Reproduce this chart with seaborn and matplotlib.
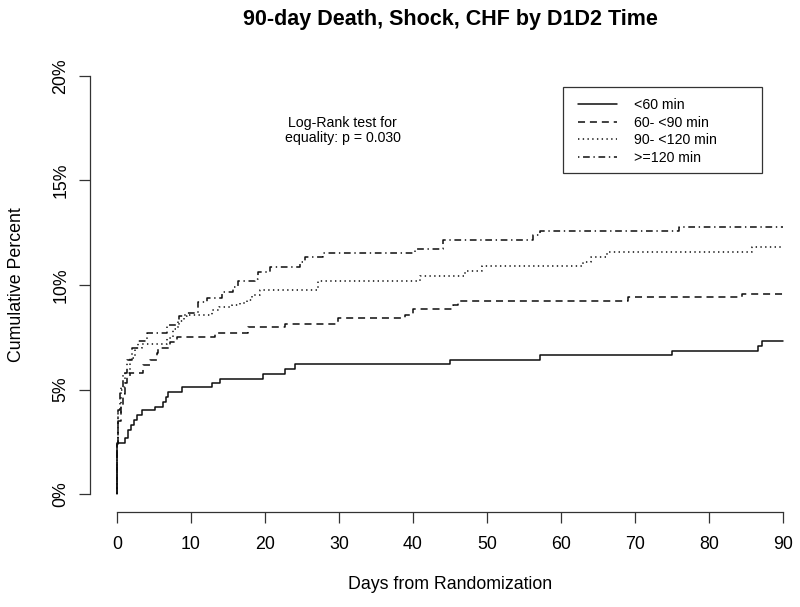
import matplotlib
matplotlib.use("Agg")
import matplotlib.pyplot as plt
from matplotlib.patches import Rectangle
import seaborn as sns
import pandas as pd

# cumulative percent (step values after each event)
groups = ["<60 min", "60- <90 min", "90- <120 min", ">=120 min"]

days_lt60 = [0, 0, 1.1, 1.5, 1.9, 2.3, 2.7, 3.4, 5.1, 6.2, 6.6, 6.9, 8.8, 12.8, 13.9,
             19.7, 22.7, 24.1, 45.0, 57.2, 75.0, 86.6, 87.2, 90]
pct_lt60 = [0, 2.44, 2.68, 3.06, 3.30, 3.54, 3.78, 4.00, 4.16, 4.40, 4.64, 4.88, 5.10, 5.31, 5.50,
            5.74, 5.98, 6.22, 6.41, 6.65, 6.84, 7.08, 7.32, 7.32]

days_60_90 = [0, 0, 0.1, 0.2, 0.5, 0.8, 1.1, 1.4, 1.8, 3.5, 4.4, 5.4, 5.6, 7.2, 8.1, 13.2,
              17.7, 22.7, 29.9, 38.9, 40.0, 45.4, 46.1, 69.0, 84.4, 90]
pct_60_90 = [0, 2.4, 3.0, 3.5, 4.1, 4.8, 5.3, 5.6, 5.79, 6.17, 6.41, 6.75, 6.99, 7.27, 7.51, 7.70,
             7.99, 8.13, 8.42, 8.56, 8.85, 9.04, 9.23, 9.43, 9.57, 9.57]

days_90_120 = [0, 0, 0.1, 0.6, 1.1, 1.8, 2.4, 3.4, 6.8, 7.6, 8.3, 9.1, 12.8, 13.8, 15.5, 16.6,
               17.6, 18.3, 19.3, 27.2, 41.0, 47.0, 49.3, 63.0, 64.0, 66.2, 85.8, 90]
pct_90_120 = [0, 2.4, 3.9, 5.1, 5.8, 6.5, 7.0, 7.2, 7.45, 7.9, 8.3, 8.56, 8.8, 8.95, 9.04, 9.15,
              9.3, 9.5, 9.76, 10.19, 10.43, 10.67, 10.9, 11.1, 11.34, 11.58, 11.82, 11.82]

days_ge120 = [0, 0, 0.1, 0.4, 0.8, 1.4, 2.0, 2.8, 4.0, 6.8, 8.4, 9.5, 10.9, 12.2, 14.2, 15.7,
              16.4, 18.6, 19.0, 20.7, 24.7, 25.4, 27.8, 40.3, 44.0, 56.2, 57.2, 76.0, 90]
pct_ge120 = [0, 2.4, 4.0, 5.0, 5.8, 6.4, 7.0, 7.3, 7.7, 8.1, 8.5, 8.65, 9.2, 9.4, 9.67, 9.9,
             10.2, 10.3, 10.6, 10.88, 11.1, 11.34, 11.55, 11.72, 12.15, 12.39, 12.58, 12.78, 12.78]

x_ticks = [0, 10, 20, 30, 40, 50, 60, 70, 80, 90]
y_ticks = [0, 5, 10, 15, 20]
y_ticklabels = ["0%", "5%", "10%", "15%", "20%"]

frames = []
for g, d, p in zip(groups,
                   [days_lt60, days_60_90, days_90_120, days_ge120],
                   [pct_lt60, pct_60_90, pct_90_120, pct_ge120]):
    frames.append(pd.DataFrame({"Days": d, "Pct": p, "Group": g}))
df = pd.concat(frames, ignore_index=True)

sns.set_style("white")
plt.rcParams["font.family"] = ["Liberation Sans", "DejaVu Sans"]
plt.rcParams["text.color"] = "black"

ink = "#0d0d0d"
fig = plt.figure(figsize=(8, 6.07), dpi=100)
ax = fig.add_axes([90 / 800, 96 / 607, 710 / 800, 452 / 607])

line_dashes = {
    "<60 min": "",
    "60- <90 min": (4.6, 3.2),
    "90- <120 min": (0.9, 2.2),
    ">=120 min": (0.9, 2.4, 4.4, 2.4),
}
sns.lineplot(data=df, x="Days", y="Pct", hue="Group", style="Group",
             hue_order=groups, style_order=groups,
             palette={g: ink for g in groups}, dashes=line_dashes,
             estimator=None, drawstyle="steps-post", linewidth=1.1,
             legend=False, ax=ax)

ax.set_xlim(-3.65, 92.3)
ax.set_ylim(-0.81, 20.81)
ax.set_xticks(x_ticks)
ax.set_yticks(y_ticks)
ax.set_yticklabels(y_ticklabels)
ax.set_xlabel("")
ax.set_ylabel("")

for side in ["top", "right"]:
    ax.spines[side].set_visible(False)
ax.spines["left"].set_bounds(0, 20)
ax.spines["bottom"].set_bounds(0, 90)
ax.spines["bottom"].set_position(("outward", 1))
for side in ["left", "bottom"]:
    ax.spines[side].set_color("#333333")
    ax.spines[side].set_linewidth(0.9)

ax.tick_params(axis="both", direction="out", length=8, width=0.9, color="#333333",
               labelsize=12.8, labelcolor="black")
ax.tick_params(axis="x", pad=9, bottom=True)
ax.tick_params(axis="y", pad=7, left=True, labelrotation=90)
for lab in ax.get_yticklabels():
    lab.set_va("center")

fig.text(450 / 800, 1 - 25 / 607, "90-day Death, Shock, CHF by D1D2 Time",
         ha="center", va="baseline", fontsize=15.5, fontweight="bold")
fig.text(450 / 800, 1 - 589 / 607, "Days from Randomization",
         ha="center", va="baseline", fontsize=12.8)
fig.text(17 / 800, 1 - 285 / 607, "Cumulative Percent",
         ha="center", va="center", rotation=90, fontsize=12.8)

ax.text(30.5, 17.4, "Log-Rank test for\nequality: p = 0.030",
        ha="center", va="center", fontsize=10.2, linespacing=1.1)

# legend box like base R
fig.patches.append(Rectangle((563 / 800, 1 - 173 / 607), 199 / 800, 86 / 607,
                             transform=fig.transFigure, fill=False,
                             edgecolor="#333333", linewidth=0.9))
fig.legend(handles=ax.get_lines()[:4], labels=groups, loc="upper left",
           bbox_to_anchor=(578 / 800, 1 - 98 / 607), frameon=False,
           borderpad=0, borderaxespad=0, handlelength=2.75, handletextpad=1.2,
           labelspacing=0.25, fontsize=10.2)

fig.savefig("out.png", dpi=100)
